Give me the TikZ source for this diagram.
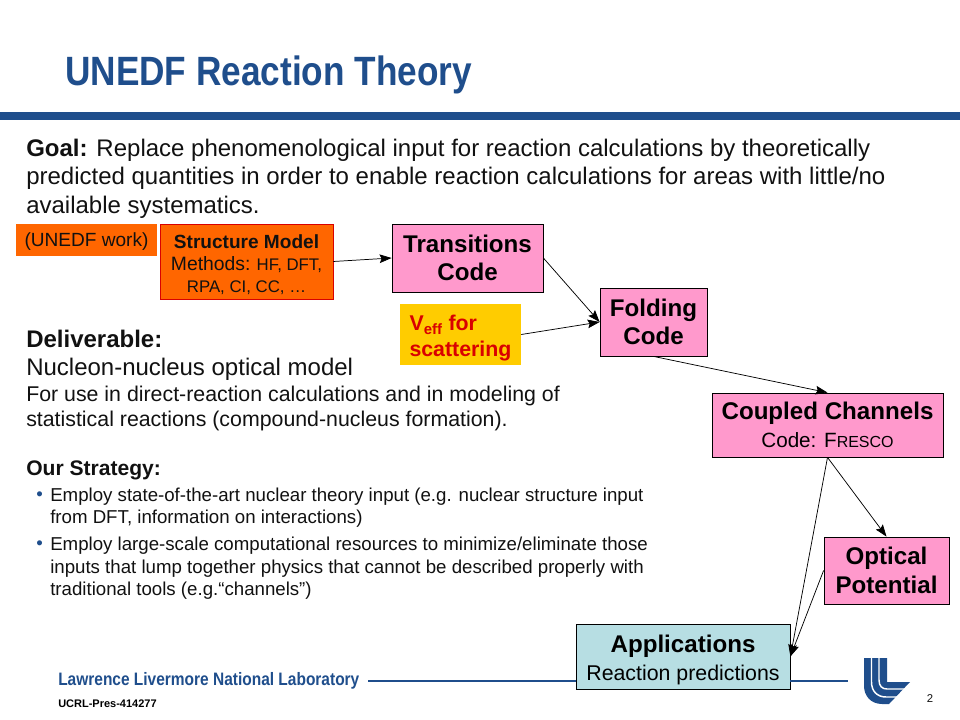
\documentclass[tikz,border=0pt]{standalone}
\usepackage{fontspec}
\setmainfont{Liberation Sans}
\newfontfamily\titlefont[FakeStretch=0.86]{Liberation Sans}
\usetikzlibrary{arrows.meta, positioning}
\definecolor{llblue}{HTML}{1F4E8C}
\definecolor{boxpink}{HTML}{FF99CC}
\definecolor{boxorange}{HTML}{FF6600}
\definecolor{boxyellow}{HTML}{FFCC00}
\definecolor{boxteal}{HTML}{B7DEE3}
\definecolor{inktext}{HTML}{111111}
\tikzset{
  codebox/.style={draw=black, fill=boxpink, line width=0.6pt, align=center, inner sep=0pt, font=\bfseries\fontsize{18.1}{21.5}\selectfont},
  bodytext/.style={align=left, anchor=north west, inner sep=0pt, text=inktext},
  flow/.style={-{Stealth[length=9pt, width=6.5pt, inset=1.5pt]}, line width=0.55pt},
}
\begin{document}
\begin{tikzpicture}[x=0.75pt, y=-0.75pt]
        \useasboundingbox (0,0) rectangle (960,720);

        % Title
        \node[anchor=west, inner sep=0pt, text=llblue, font=\titlefont\bfseries\fontsize{30.7}{34}\selectfont] (title) at (65,75) {UNEDF Reaction Theory};
        \fill[llblue] (0,112) rectangle (960,120);

        % Goal
        \node[bodytext, font=\fontsize{18}{21.6}\selectfont] (goal) at (26,138.5) {\textbf{Goal:} Replace phenomenological input for reaction calculations by theoretically\\predicted quantities in order to enable reaction calculations for areas with little/no\\available systematics.};

        % Deliverable
        \node[bodytext, font=\fontsize{18}{21.2}\selectfont] (deliverable) at (26,330) {\textbf{Deliverable:}\\Nucleon-nucleus optical model};
        \node[bodytext, font=\fontsize{16}{18.8}\selectfont] (use) at (26,386) {For use in direct-reaction calculations and in modeling of\\statistical reactions (compound-nucleus formation).};

        % Strategy
        \node[bodytext, font=\bfseries\fontsize{15.8}{18}\selectfont] (strategy) at (26,461) {Our Strategy:};
        \node[bodytext, font=\fontsize{14}{16.6}\selectfont, text=llblue] (dotA) at (36,492) {•};
        \node[bodytext, font=\fontsize{14}{16.6}\selectfont] (itemA) at (50,488) {Employ state-of-the-art nuclear theory input (e.g. nuclear structure input\\from DFT, information on interactions)};
        \node[bodytext, font=\fontsize{14}{16.6}\selectfont, text=llblue] (dotB) at (36,541) {•};
        \node[bodytext, font=\fontsize{14}{16.8}\selectfont] (itemB) at (50,537) {Employ large-scale computational resources to minimize/eliminate those\\inputs that lump together physics that cannot be described properly with\\traditional tools (e.g.“channels”)};

        % Boxes
        \node[fill=boxorange, minimum width=105.75pt, minimum height=24pt, inner sep=0pt, text height=13pt, text depth=2.5pt, text=inktext, font=\fontsize{14.3}{16}\selectfont] (unedf) at (86.5,240) {(UNEDF work)};
        \node[draw=red!85!black, fill=boxorange, minimum width=129.75pt, minimum height=56.25pt, inner sep=0pt, align=center, text=inktext, font=\fontsize{12.6}{16.2}\selectfont] (structure) at (246.5,261.5) {\rule{0pt}{15pt}\textbf{\fontsize{14.3}{16}\selectfont Structure Model}\\{\fontsize{14.5}{16}\selectfont Methods:} HF, DFT,\\RPA, CI, CC, …};
        \node[codebox, minimum width=113.25pt, minimum height=51pt] (transitions) at (467.5,258) {Transitions\\Code};
        \node[fill=boxyellow, minimum width=90.75pt, minimum height=45.75pt, inner sep=0pt, align=left, text=red!85!black, font=\bfseries\fontsize{16}{19.5}\selectfont] (veff) at (460.5,334.5) {\rule{0pt}{17pt}V\textsubscript{eff} for\\scattering};
        \node[codebox, minimum width=80.25pt, minimum height=51pt] (folding) at (653.5,322) {Folding\\Code};
        \node[codebox, minimum width=173.25pt, minimum height=48pt] (coupled) at (827.5,425) {Coupled Channels\\{\mdseries\fontsize{15.5}{18.5}\selectfont Code: F{\fontsize{12}{18.5}\selectfont RESCO}}};
        \node[codebox, minimum width=93.75pt, minimum height=50.25pt] (optical) at (886.5,570.5) {Optical\\Potential};
        \node[codebox, fill=boxteal, minimum width=160.5pt, minimum height=48.75pt] (applications) at (683,656.5) {\rule{0pt}{18.5pt}Applications\\{\mdseries\fontsize{16}{18.5}\selectfont Reaction predictions}};

        % Edges
        \draw[flow] (structure.east) -- (transitions.west);
        \draw[flow] (transitions.east) -- (folding.west);
        \draw[flow] (veff.east) -- (folding.west);
        \draw[flow] (folding.south) -- (coupled.north);
        \draw[flow] (coupled.south) -- (optical.north);
        \draw[flow] (coupled.south) -- (applications.east);
        \draw[flow] (optical.west) -- (applications.east);

        % Footer
        \node[anchor=west, inner sep=0pt, text=llblue, font=\titlefont\bfseries\fontsize{13.5}{15}\selectfont] (lab) at (58,681) {Lawrence Livermore National Laboratory};
        \node[anchor=west, inner sep=0pt, text=black, font=\bfseries\fontsize{8.25}{10}\selectfont] (ucrl) at (58,704) {UCRL-Pres-414277};
        \node[anchor=center, inner sep=0pt, text=inktext, font=\fontsize{8.5}{10}\selectfont] (page) at (930,699) {2};
        \coordinate (ruleL) at (368,681);
        \coordinate (ruleR) at (848,681);
        \draw[llblue, line width=0.8pt] (ruleL) -- (applications.west |- ruleL);
        \draw[llblue, line width=0.8pt] (applications.east |- ruleL) -- (ruleR);

        % Logo
        \fill[llblue] (864,658) -- (887,658) -- (887,682) -- (910,682) -- (889,704) -- (882,704) .. controls (871,704) and (864,696) .. (864,686) -- cycle;
        \draw[white, line width=1.1pt] (871.5,657) -- (871.5,682) .. controls (871.5,691) and (877,697) .. (886,697) -- (898,697);
        \draw[white, line width=1.1pt] (879,657) -- (879,680) .. controls (879,686) and (882,689) .. (887,689) -- (906,689);
    \end{tikzpicture}
\end{document}
